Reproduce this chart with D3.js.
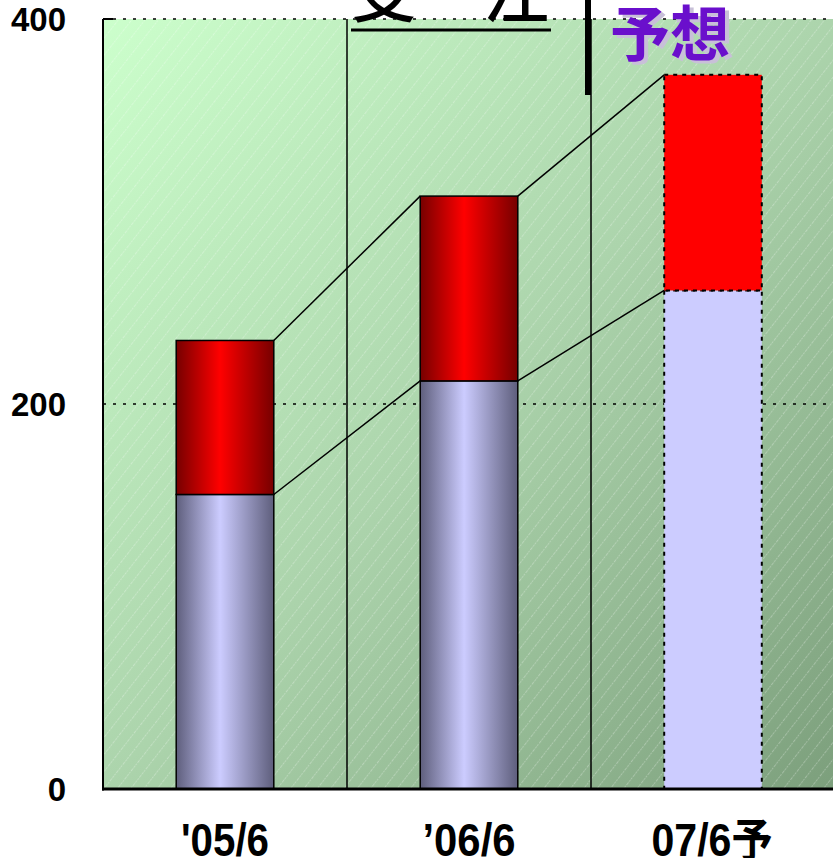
<!DOCTYPE html>
<html>
<head>
<meta charset="utf-8">
<script src="https://cdn.jsdelivr.net/npm/d3@7"></script>
<style>
  html, body { margin: 0; padding: 0; background: #ffffff; }
  svg { display: block; }
</style>
</head>
<body>
<script>
// Order volume by period: lower (lavender) and upper (red) stacked segments
const categories = ["'05/6", "\u201906/6", "07/6予"];
const baseValues = [153, 212, 259];
const upperValues = [80, 96, 112];
const forecastFlags = [false, false, true];
const yTickValues = [0, 200, 400];
const gridValues = [200, 400];

const W = 833, H = 858;
const svg = d3.select("body").append("svg")
  .attr("width", W).attr("height", H);

const x = d3.scaleBand().domain(categories).range([103, 835]).paddingInner(0).paddingOuter(0);
const y = d3.scaleLinear().domain([0, 400]).range([789, 19]);
const barW = x.bandwidth() * 0.4;
const barX = c => x(c) + (x.bandwidth() - barW) / 2;

const defs = svg.append("defs");

// plot background: diagonal green gradient with faint hatching
const bg = defs.append("linearGradient").attr("id", "bgGrad")
  .attr("x1", 0).attr("y1", 0).attr("x2", 1).attr("y2", 1);
bg.append("stop").attr("offset", "0%").attr("stop-color", "#ccffcc");
bg.append("stop").attr("offset", "50%").attr("stop-color", "#acd4ac");
bg.append("stop").attr("offset", "100%").attr("stop-color", "#7c9f7c");

const hatch = defs.append("pattern").attr("id", "hatch")
  .attr("patternUnits", "userSpaceOnUse")
  .attr("width", 10.5).attr("height", 10.5)
  .attr("patternTransform", "rotate(38)");
hatch.append("line")
  .attr("x1", 0.5).attr("y1", 0).attr("x2", 0.5).attr("y2", 10.5)
  .attr("stroke", "#ffffff").attr("stroke-opacity", 0.28)
  .attr("stroke-width", 1).attr("stroke-dasharray", "2,1");

// cylinder-like shading for the actual bars
function shade(id, edge, mid) {
  const g = defs.append("linearGradient").attr("id", id)
    .attr("x1", 0).attr("y1", 0).attr("x2", 1).attr("y2", 0);
  g.append("stop").attr("offset", "0%").attr("stop-color", edge);
  g.append("stop").attr("offset", "45%").attr("stop-color", mid);
  g.append("stop").attr("offset", "100%").attr("stop-color", edge);
}
shade("baseShade", "#5e5e7c", "#ccccff");
shade("upperShade", "#760000", "#ff0000");

const plotW = 835 - 103, plotTop = y(400), plotBottom = y(0);
svg.append("rect").attr("x", 103).attr("y", plotTop)
  .attr("width", plotW).attr("height", plotBottom - plotTop)
  .attr("fill", "url(#bgGrad)");
svg.append("rect").attr("x", 103).attr("y", plotTop)
  .attr("width", plotW).attr("height", plotBottom - plotTop)
  .attr("fill", "url(#hatch)");

// dotted gridlines
svg.append("g").selectAll("line").data(gridValues).join("line")
  .attr("x1", 103).attr("x2", W)
  .attr("y1", d => y(d)).attr("y2", d => y(d))
  .attr("stroke", "#000").attr("stroke-width", 1.6)
  .attr("stroke-dasharray", "3,7");

// category separators
svg.append("g").selectAll("line").data(categories.slice(1)).join("line")
  .attr("x1", d => x(d)).attr("x2", d => x(d))
  .attr("y1", plotTop).attr("y2", plotBottom)
  .attr("stroke", "#000").attr("stroke-width", 1.5);

// series lines joining segment tops
const tops = categories.map((c, i) => ({
  c, base: baseValues[i], total: baseValues[i] + upperValues[i]
}));
const links = svg.append("g");
for (let i = 0; i < tops.length - 1; i++) {
  const a = tops[i], b = tops[i + 1];
  ["base", "total"].forEach(k => {
    links.append("line")
      .attr("x1", barX(a.c) + barW).attr("y1", y(a[k]))
      .attr("x2", barX(b.c)).attr("y2", y(b[k]))
      .attr("stroke", "#000").attr("stroke-width", 1.5);
  });
}

// stacked bars
const bars = svg.append("g");
categories.forEach((c, i) => {
  const b0 = baseValues[i], b1 = baseValues[i] + upperValues[i];
  const fc = forecastFlags[i];
  bars.append("rect")
    .attr("x", barX(c)).attr("y", y(b0))
    .attr("width", barW).attr("height", y(0) - y(b0))
    .attr("fill", fc ? "#ccccff" : "url(#baseShade)")
    .attr("stroke", "#000").attr("stroke-width", fc ? 2 : 1.5)
    .attr("stroke-dasharray", fc ? "4,5" : null);
  bars.append("rect")
    .attr("x", barX(c)).attr("y", y(b1))
    .attr("width", barW).attr("height", y(b0) - y(b1))
    .attr("fill", fc ? "#ff0000" : "url(#upperShade)")
    .attr("stroke", "#000").attr("stroke-width", fc ? 2 : 1.5)
    .attr("stroke-dasharray", fc ? "4,5" : null);
});

// axes lines
svg.append("line").attr("x1", 103).attr("x2", 103)
  .attr("y1", plotTop).attr("y2", plotBottom + 1.5)
  .attr("stroke", "#000").attr("stroke-width", 2);
svg.append("line").attr("x1", 103).attr("x2", 113)
  .attr("y1", plotTop).attr("y2", plotTop)
  .attr("stroke", "#000").attr("stroke-width", 2);
svg.append("line").attr("x1", 102).attr("x2", W)
  .attr("y1", plotBottom).attr("y2", plotBottom)
  .attr("stroke", "#000").attr("stroke-width", 3);

// y tick labels
const yAxis = d3.axisLeft(y).tickValues(yTickValues).tickSize(0).tickPadding(0);
const yg = svg.append("g").attr("transform", "translate(66,0)").call(yAxis);
yg.select(".domain").remove();
yg.selectAll("text")
  .attr("font-family", "'Liberation Sans', Arial, sans-serif")
  .attr("font-weight", "bold").attr("font-size", 33)
  .attr("fill", "#000").attr("dy", "0.36em");

// x category labels (condensed bold)
const labelWidths = [88, 93, 121];
svg.append("g").selectAll("text").data(categories).join("text")
  .attr("x", (d, i) => x(d) + x.bandwidth() / 2 - labelWidths[i] / 2 + (i === 2 ? -1 : 0))
  .attr("y", 856)
  .attr("textLength", (d, i) => labelWidths[i])
  .attr("lengthAdjust", "spacingAndGlyphs")
  .attr("font-family", "'Liberation Sans Narrow', 'Liberation Sans', 'Noto Sans CJK JP', sans-serif")
  .attr("font-weight", "bold").attr("font-size", 46)
  .attr("fill", "#000")
  .text(d => d);

// unit note in the top-left corner
svg.append("text")
  .attr("x", 228).attr("y", -4.5).attr("text-anchor", "end")
  .attr("font-family", "'Noto Sans CJK JP', sans-serif")
  .attr("font-weight", "bold").attr("font-size", 32)
  .attr("fill", "#1a3fc0")
  .text("【単位：億円】");

// section heading for actual orders
svg.append("text")
  .attr("x", 351).attr("y", 17)
  .attr("font-family", "'Noto Sans CJK JP', sans-serif")
  .attr("font-weight", 500).attr("font-size", 66)
  .attr("fill", "#000")
  .text("受\u3000注");
svg.append("line").attr("x1", 351).attr("x2", 551)
  .attr("y1", 30).attr("y2", 30)
  .attr("stroke", "#000").attr("stroke-width", 3);

// divider between actual and forecast
svg.append("line").attr("x1", 588).attr("x2", 588)
  .attr("y1", 0).attr("y2", 95)
  .attr("stroke", "#000").attr("stroke-width", 6);

// forecast heading with soft shadow
svg.append("text")
  .attr("x", 614).attr("y", 59)
  .attr("font-family", "'Noto Sans CJK JP', sans-serif")
  .attr("font-weight", "bold").attr("font-size", 60)
  .attr("fill", "#c8c0d8")
  .text("予想");
svg.append("text")
  .attr("x", 610).attr("y", 56)
  .attr("font-family", "'Noto Sans CJK JP', sans-serif")
  .attr("font-weight", "bold").attr("font-size", 60)
  .attr("fill", "#6a0fcc")
  .text("予想");
</script>
</body>
</html>
